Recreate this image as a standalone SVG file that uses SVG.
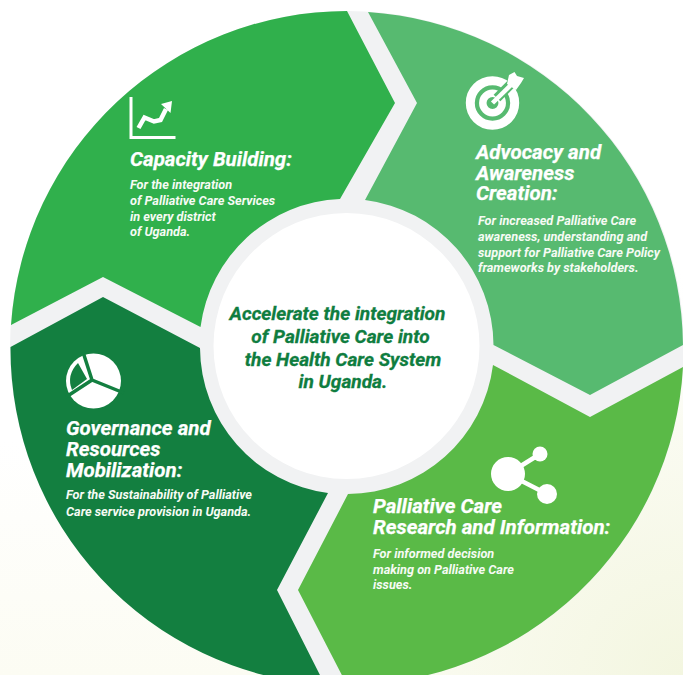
<svg xmlns="http://www.w3.org/2000/svg" width="683" height="675" viewBox="0 0 683 675">
<defs>
<linearGradient id="bg0" x1="0" y1="440" x2="0" y2="675" gradientUnits="userSpaceOnUse">
<stop offset="0" stop-color="#FFFFFF"/><stop offset="1" stop-color="#FCFCF3"/>
</linearGradient>
<radialGradient id="bg" gradientUnits="userSpaceOnUse" cx="683" cy="675" r="420">
<stop offset="0" stop-color="#F3F6E0"/><stop offset="0.6" stop-color="#F9FAEE" stop-opacity="0.8"/><stop offset="1" stop-color="#FFFFFF" stop-opacity="0"/>
</radialGradient>
</defs>
<style>
text{font-family:Roboto,"Liberation Sans",sans-serif;font-style:italic;font-weight:700;fill:#fff}
.h{font-size:20.5px;stroke:#fff;stroke-width:.25px}
.s{font-size:12.7px;fill:#F6FBF4}
.c{font-size:19.1px;fill:#0F7D3F;stroke:#0F7D3F;stroke-width:.3px;text-anchor:middle}
.ic{fill:#fff}
.il{fill:none;stroke:#fff}
</style>
<rect width="683" height="675" fill="url(#bg0)"/>
<rect width="683" height="675" fill="url(#bg)"/>
<circle id="base-disc" cx="347" cy="348" r="337" fill="#F1F2F3"/>
<g id="capacity-building">
<path d="M347 11L395 103L340 199A147 147 0 0 0 200.500 327L103 277L11 325A337 337 0 0 1 347 11Z" fill="#30B04C"/>
<path class="il" stroke-width="3" d="M131 97V137.500H175.500"/>
<path class="il" stroke-width="4.500" d="M138.500 128L144.500 117.500L154 121.500L160.500 120L166 109"/>
<path class="ic" d="M161 104L172 101L170.500 113Z"/>
<text class="h" x="130" y="166">Capacity Building:</text>
<text class="s"><tspan x="130" y="189">For the integration</tspan><tspan x="130" y="205">of Palliative Care Services</tspan><tspan x="130" y="221">in every district</tspan><tspan x="130" y="236">of Uganda.</tspan></text>
</g>
<g id="advocacy-awareness">
<path d="M368 12A337 337 0 0 1 683 345L590 395L493.500 345A147 147 0 0 0 365 200L417 103Z" fill="#57BA70"/>
<circle class="il" cx="492.500" cy="103" r="22.200" stroke-width="9"/>
<circle class="il" cx="492.500" cy="103" r="9.700" stroke-width="7.500"/>
<path fill="none" stroke="#57BA70" stroke-width="9.500" d="M497 98L514 81"/>
<path class="il" stroke-width="4.500" d="M492.500 103L514 82"/>
<path class="ic" d="M507 84L509 75L514.500 72L517 76L524 78L521 83L516 90Z"/>
<text class="h"><tspan x="476" y="159">Advocacy and</tspan><tspan x="476" y="180">Awareness</tspan><tspan x="476" y="200">Creation:</tspan></text>
<text class="s"><tspan x="478" y="225">For increased Palliative Care</tspan><tspan x="478" y="241">awareness, understanding and</tspan><tspan x="478" y="257">support for Palliative Care Policy</tspan><tspan x="478" y="272">frameworks by stakeholders.</tspan></text>
</g>
<g id="research-information">
<path d="M493 365L590 417L683 367A337 337 0 0 1 347 685L298 590L348 494A147 147 0 0 0 493 365Z" fill="#5ABA47"/>
<path class="il" stroke-width="4.500" d="M540 454L508 474L547 494"/>
<circle class="ic" cx="508" cy="474" r="17"/>
<circle class="ic" cx="540" cy="454" r="7.500"/>
<circle class="ic" cx="547" cy="494" r="10"/>
<text class="h"><tspan x="373" y="513">Palliative Care</tspan><tspan x="373" y="534">Research and Information:</tspan></text>
<text class="s"><tspan x="373" y="558">For informed decision</tspan><tspan x="373" y="574">making on Palliative Care</tspan><tspan x="373" y="589">issues.</tspan></text>
</g>
<g id="governance-resources">
<path d="M10.500 347L103 297L200 348A147 147 0 0 0 328 493L277 590L325 685A337 337 0 0 1 10.500 347Z" fill="#137F40"/>
<circle class="ic" cx="93.500" cy="381" r="27.500"/>
<path fill="none" stroke="#137F40" stroke-width="3.500" d="M83 352L92 380L124 393M92 380L66 397"/>
<path fill="#137F40" d="M78 363L87 379L72 390Q66 375 78 363Z"/>
<text class="h"><tspan x="66" y="435">Governance and</tspan><tspan x="66" y="456">Resources</tspan><tspan x="66" y="477">Mobilization:</tspan></text>
<text class="s"><tspan x="66" y="499">For the Sustainability of Palliative</tspan><tspan x="66" y="516">Care service provision in Uganda.</tspan></text>
</g>
<g id="center-goal">
<circle cx="346.500" cy="346" r="133" fill="#FFFFFF"/>
<text class="c"><tspan x="337.500" y="320">Accelerate the integration</tspan><tspan x="340.500" y="343">of Palliative Care into</tspan><tspan x="343" y="366">the Health Care System</tspan><tspan x="343" y="388">in Uganda.</tspan></text>
</g>
</svg>
